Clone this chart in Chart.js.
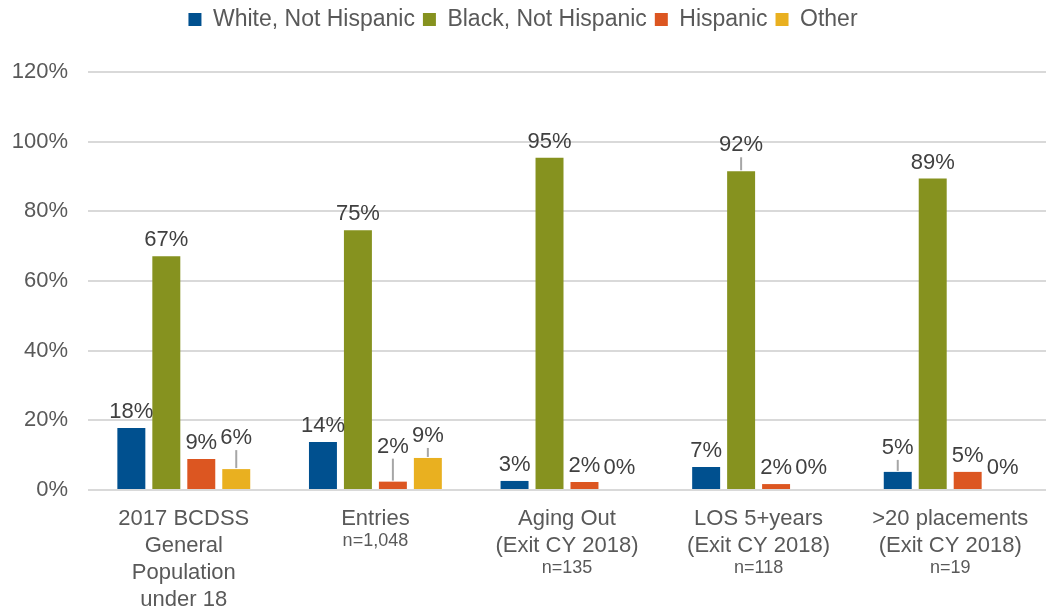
<!DOCTYPE html>
<html>
<head>
<meta charset="utf-8">
<script src="https://cdn.jsdelivr.net/npm/chart.js@4/dist/chart.umd.min.js"></script>
<style>
  body { margin: 0; background: #fff; }
  #wrap { width: 1046px; height: 611px; }
</style>
</head>
<body>
<div id="wrap"><canvas id="raceChart" width="1046" height="611"></canvas></div>
<script>
// Data
const categories = ['2017 BCDSS', 'Entries', 'Aging Out', 'LOS 5+years', '>20 placements'];
const labelLines = [
  ['2017 BCDSS', 'General', 'Population', 'under 18'],
  ['Entries'],
  ['Aging Out', '(Exit CY 2018)'],
  ['LOS 5+years', '(Exit CY 2018)'],
  ['>20 placements', '(Exit CY 2018)']
];
const sampleSizes = ['', 'n=1,048', 'n=135', 'n=118', 'n=19'];

const white = [17.8, 13.8, 2.6, 6.6, 5.2];
const black = [67.1, 74.6, 95.4, 91.5, 89.4];
const hispanic = [8.9, 2.4, 2.3, 1.7, 5.2];
const other = [6.0, 9.2, 0, 0, 0];

const yTicks = [0, 20, 40, 60, 80, 100, 120];

// labels that Excel pushed up and tied back with a leader line
const raisedLabels = { '3-0': 22, '2-1': 26, '3-1': 13, '1-3': 17, '0-4': 15 };

const font = '"Liberation Sans", Arial, sans-serif';

// extra room under the legend
const legendGap = {
  id: 'legendGap',
  beforeInit(chart) {
    const fit = chart.legend.fit;
    chart.legend.fit = function () {
      fit.bind(chart.legend)();
      this.height += 31;
    };
  }
};

// Value labels above the bars
const valueLabels = {
  id: 'valueLabels',
  afterDatasetsDraw(chart) {
    const ctx = chart.ctx;
    const base = chart.scales.y.getPixelForValue(0);
    ctx.save();
    ctx.font = '22px ' + font;
    ctx.fillStyle = '#404040';
    ctx.textAlign = 'center';
    ctx.textBaseline = 'bottom';
    chart.data.datasets.forEach((ds, di) => {
      chart.getDatasetMeta(di).data.forEach((bar, i) => {
        const key = di + '-' + i;
        let bottom;
        if (raisedLabels[key]) {
          bottom = bar.y - raisedLabels[key];
          ctx.strokeStyle = '#a6a6a6';
          ctx.lineWidth = 2;
          ctx.beginPath();
          ctx.moveTo(bar.x, bar.y - 1);
          ctx.lineTo(bar.x, bottom + 3);
          ctx.stroke();
        } else {
          bottom = Math.min(bar.y - 7, base - 13);
        }
        ctx.fillText(Math.round(ds.data[i]) + '%', bar.x, bottom + 2);
      });
    });
    ctx.restore();
  }
};

// Category labels with a smaller sample-size line
const categoryLabels = {
  id: 'categoryLabels',
  afterDraw(chart) {
    const ctx = chart.ctx;
    const x = chart.scales.x;
    ctx.save();
    ctx.fillStyle = '#595959';
    ctx.textAlign = 'center';
    ctx.textBaseline = 'middle';
    labelLines.forEach((lines, i) => {
      const cx = x.getPixelForTick(i);
      let y = 519;
      ctx.font = '22px ' + font;
      lines.forEach((t, k) => {
        y = 519 + k * 27;
        ctx.fillText(t, cx, y);
      });
      if (sampleSizes[i]) {
        ctx.font = '18px ' + font;
        ctx.fillText(sampleSizes[i], cx, y + 22);
      }
    });
    ctx.restore();
  }
};

new Chart(document.getElementById('raceChart'), {
  type: 'bar',
  data: {
    labels: categories,
    datasets: [
      { label: 'White, Not Hispanic', data: white, backgroundColor: '#00508f' },
      { label: 'Black, Not Hispanic', data: black, backgroundColor: '#86921f' },
      { label: 'Hispanic', data: hispanic, backgroundColor: '#dc5621' },
      { label: 'Other', data: other, backgroundColor: '#e9b020' }
    ]
  },
  options: {
    responsive: false,
    animation: false,
    categoryPercentage: 0.73,
    barPercentage: 0.8,
    layout: { padding: { top: 0, right: 0, bottom: 113, left: 0 } },
    scales: {
      x: {
        ticks: { display: false },
        grid: { display: false },
        border: { display: false }
      },
      y: {
        min: 0,
        max: 120,
        afterBuildTicks(axis) {
          axis.ticks = yTicks.map(v => ({ value: v }));
        },
        afterFit(axis) { axis.width = 88; },
        ticks: {
          padding: 20,
          color: '#595959',
          font: { family: font, size: 22 },
          callback: v => v + '%'
        },
        grid: { color: '#d9d9d9', lineWidth: 2, drawTicks: false },
        border: { display: false }
      }
    },
    plugins: {
      legend: {
        position: 'top',
        labels: {
          boxWidth: 13,
          boxHeight: 13,
          padding: 8,
          color: '#595959',
          font: { family: font, size: 23 }
        }
      },
      tooltip: { enabled: false }
    }
  },
  plugins: [legendGap, valueLabels, categoryLabels]
});
</script>
</body>
</html>
